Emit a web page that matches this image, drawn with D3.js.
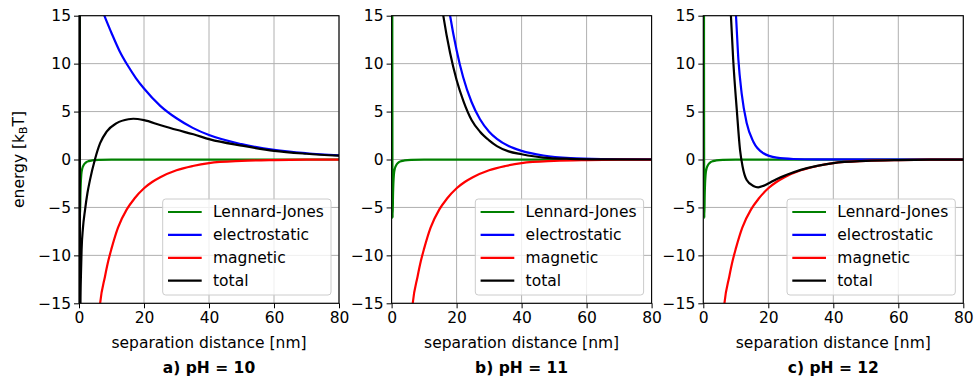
<!DOCTYPE html>
<html>
<head>
<meta charset="utf-8">
<script src="https://cdn.jsdelivr.net/npm/d3@7"></script>
<style>
  body { margin: 0; background: #fff; }
  text { font-family: "DejaVu Sans", sans-serif; }
</style>
</head>
<body>
<script>
// values (x in nm, energy in kBT)
var xTicks = [0, 20, 40, 60, 80];
var yTicks = [-15, -10, -5, 0, 5, 10, 15];
var seriesNames = ["Lennard-Jones", "electrostatic", "magnetic", "total"];
var seriesColors = ["green", "blue", "red", "black"];
var panelTitles = ["a) pH = 10", "b) pH = 11", "c) pH = 12"];

// same in all three panels
var ljX = [0.1, 0.3, 0.45, 0.7, 1.0, 1.5, 2, 3, 4, 6, 10, 80];
var ljY = [80, -6.1, -3.5, -1.6, -0.95, -0.55, -0.35, -0.17, -0.1, -0.04, -0.01, 0];
var magX = [5, 6.5, 8, 9, 10, 12, 14.7, 17, 20, 22.5, 25, 30, 35, 40, 50, 60, 70, 80];
var magY = [-22, -15, -12.2, -10.6, -9.3, -7.1, -5.2, -4.1, -3.0, -2.35, -1.85, -1.12, -0.68, -0.38, -0.15, -0.06, -0.02, -0.01];

// a) pH = 10
var elecAX = [6, 7.8, 10, 12.5, 15, 17.5, 20, 25, 30, 35, 40, 50, 60, 70, 80];
var elecAY = [16.5, 15, 13.2, 11.3, 9.8, 8.5, 7.4, 5.6, 4.3, 3.3, 2.55, 1.6, 1.0, 0.65, 0.42];
var totAX = [0.2, 0.3, 0.45, 0.6, 0.8, 1.2, 1.85, 2.6, 3.4, 4.9, 6.5, 8.5, 11.6, 15.2, 16.7, 20, 24.9, 30, 35.2, 40.3, 50, 60, 70, 80];
var totAY = [60, -30, -15, -12, -9.4, -7.2, -5.27, -3.5, -2.1, 0, 1.7, 2.9, 3.8, 4.2, 4.25, 4.1, 3.6, 3.1, 2.63, 2.1, 1.45, 0.9, 0.6, 0.4];

// b) pH = 11
var elecBX = [16, 18, 20, 22, 24.6, 27.2, 30, 32.4, 36, 40, 46.7, 55, 65, 80];
var elecBY = [19.6, 15, 11.4, 8.6, 6.0, 4.2, 2.9, 2.15, 1.4, 0.9, 0.42, 0.15, 0.05, 0.01];
var totBX = [14, 15.9, 18, 20, 22.1, 24.65, 27.2, 30, 32.4, 36, 40, 46.7, 55, 65, 80];
var totBY = [19.6, 15, 11.1, 8.3, 6.1, 4.1, 2.9, 2.0, 1.4, 0.85, 0.55, 0.2, 0.07, 0.02, 0];

// c) pH = 12
var elecCX = [9.3, 10.06, 10.8, 11.8, 13.35, 15.4, 18.5, 22.6, 27.7, 35, 80];
var elecCY = [19, 15, 10.4, 6.9, 3.8, 1.86, 0.65, 0.19, 0.05, 0.01, 0];
var totCX = [8, 8.5, 9.2, 10.3, 11.3, 12.1, 13.35, 15.4, 16.9, 18.5, 20, 22.5, 25.7, 30, 35, 40, 50, 60, 70, 80];
var totCY = [19, 15, 10.4, 5.2, 1.0, -0.75, -2.14, -2.76, -2.9, -2.75, -2.5, -2.05, -1.6, -1.08, -0.66, -0.37, -0.15, -0.06, -0.02, -0.01];

var panels = [
  {title: panelTitles[0], series: [[ljX, ljY], [elecAX, elecAY], [magX, magY], [totAX, totAY]]},
  {title: panelTitles[1], series: [[ljX, ljY], [elecBX, elecBY], [magX, magY], [totBX, totBY]]},
  {title: panelTitles[2], series: [[ljX, ljY], [elecCX, elecCY], [magX, magY], [totCX, totCY]]}
];

var width = 975, height = 379;
var lefts = [79, 391.6, 703.3];
var plotTop = 15.7, pw = 260, ph = 287.6;
var fs = 15.5;

var svg = d3.select("body")
  .append("svg")
  .attr("width", width)
  .attr("height", height);

var y = d3.scaleLinear().domain([-15, 15]).range([ph, 0]);
var x = d3.scaleLinear().domain([0, 80]).range([0, pw]);
var minus = function(v) { return String(v).replace("-", "\u2212"); };

panels.forEach(function(p, i) {
  var g = svg.append("g").attr("transform", "translate(" + lefts[i] + "," + plotTop + ")");

  g.append("clipPath").attr("id", "clip" + i)
    .append("rect").attr("width", pw).attr("height", ph);

  // grid
  g.append("g").selectAll("line").data(xTicks).enter().append("line")
    .attr("x1", function(d) { return x(d); }).attr("x2", function(d) { return x(d); })
    .attr("y1", 0).attr("y2", ph)
    .attr("stroke", "#b0b0b0").attr("stroke-width", 1);
  g.append("g").selectAll("line").data(yTicks).enter().append("line")
    .attr("y1", function(d) { return y(d); }).attr("y2", function(d) { return y(d); })
    .attr("x1", 0).attr("x2", pw)
    .attr("stroke", "#b0b0b0").attr("stroke-width", 1);

  var line = d3.line()
    .x(function(d) { return x(d[0]); })
    .y(function(d) { return y(d[1]); })
    .curve(d3.curveMonotoneX);

  var lines = g.append("g").attr("clip-path", "url(#clip" + i + ")");
  p.series.forEach(function(s, k) {
    var pts = s[0].map(function(xv, j) { return [xv, s[1][j]]; });
    lines.append("path")
      .attr("d", line(pts))
      .attr("fill", "none")
      .attr("stroke", seriesColors[k])
      .attr("stroke-width", 2.2);
  });

  // axes
  var ax = g.append("g").attr("transform", "translate(0," + ph + ")")
    .call(d3.axisBottom(x).tickValues(xTicks).tickSize(5).tickPadding(4).tickSizeOuter(0));
  var ay = g.append("g")
    .call(d3.axisLeft(y).tickValues(yTicks).tickSize(5).tickPadding(3).tickSizeOuter(0).tickFormat(minus));
  [ax, ay].forEach(function(a) {
    a.select(".domain").remove();
    a.selectAll("line").attr("stroke", "#000").attr("stroke-width", 1);
    a.selectAll("text").attr("fill", "#000").style("font-size", fs + "px")
      .style("font-family", "'DejaVu Sans', sans-serif");
  });

  g.append("rect").attr("width", pw).attr("height", ph)
    .attr("fill", "none").attr("stroke", "#000").attr("stroke-width", 1.1);

  // legend
  var lg = g.append("g").attr("transform", "translate(" + 83.7 + "," + 183.3 + ")");
  lg.append("rect").attr("width", 168.3).attr("height", 96).attr("rx", 3)
    .attr("fill", "#fff").attr("fill-opacity", 0.8)
    .attr("stroke", "#cccccc").attr("stroke-width", 1);
  seriesNames.forEach(function(n, k) {
    var yy = 13 + k * 22.9;
    lg.append("line").attr("x1", 5.3).attr("x2", 39).attr("y1", yy).attr("y2", yy)
      .attr("stroke", seriesColors[k]).attr("stroke-width", 2.2);
    lg.append("text").attr("x", 50.3).attr("y", yy).attr("dy", "0.35em")
      .style("font-size", fs + "px").text(n);
  });

  // x label and title
  g.append("text").attr("x", pw / 2).attr("y", 343 - plotTop).attr("dy", "0.35em")
    .attr("text-anchor", "middle").style("font-size", fs + "px")
    .text("separation distance [nm]");
  g.append("text").attr("x", pw / 2).attr("y", 367.5 - plotTop).attr("dy", "0.35em")
    .attr("text-anchor", "middle").style("font-size", fs + "px").style("font-weight", "bold")
    .text(p.title);
});

// y label with subscript
var yl = svg.append("text")
  .attr("transform", "translate(18.5," + (plotTop + ph / 2) + ") rotate(-90)")
  .attr("text-anchor", "middle").attr("dy", "0.35em")
  .style("font-size", fs + "px");
yl.append("tspan").text("energy [k");
yl.append("tspan").attr("baseline-shift", "-25%").style("font-size", "10.8px").text("B");
yl.append("tspan").text("T]");
</script>
</body>
</html>
